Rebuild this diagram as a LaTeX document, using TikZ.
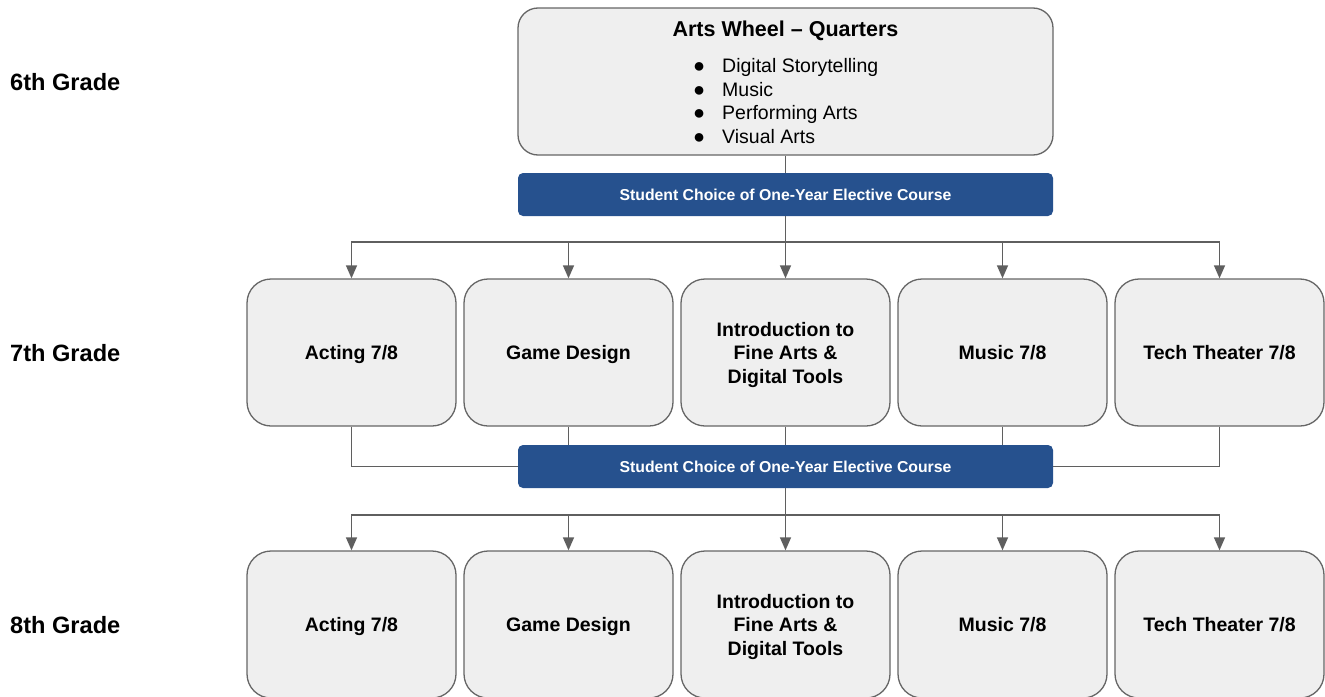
\documentclass[tikz,border=0pt]{standalone}
\usepackage{fontspec}
\setmainfont{Liberation Sans}
\usetikzlibrary{arrows.meta}
\definecolor{boxfill}{HTML}{EFEFEF}
\definecolor{boxline}{HTML}{666666}
\definecolor{conncol}{HTML}{5F5F5F}
\definecolor{barblue}{HTML}{26518E}
\newcommand{\bul}{\makebox[29pt][l]{\fontsize{20}{20}\selectfont●}}
\tikzset{
  course/.style={draw=boxline, line width=1.3pt, fill=boxfill, rounded corners=24pt,
    minimum width=209pt, minimum height=147pt, inner sep=0pt, align=center, text depth=0pt,
    font=\fontsize{19.5}{23.5}\selectfont\bfseries},
  topbox/.style={draw=boxline, line width=1.3pt, fill=boxfill, rounded corners=20pt,
    minimum width=535pt, minimum height=147pt, inner sep=0pt},
  bar/.style={fill=barblue, rounded corners=5pt, minimum width=535pt, minimum height=43pt,
    inner sep=0pt, text=white, text depth=0pt, font=\fontsize{15.8}{18}\selectfont\bfseries},
  grade/.style={anchor=west, inner sep=0pt, text depth=0pt, font=\fontsize{23.6}{27}\selectfont\bfseries},
  conn/.style={draw=conncol, line width=1.4pt},
  arr/.style={conn, -{Triangle[length=13pt,width=11pt]}}
}
\begin{document}
\begin{tikzpicture}[x=1pt,y=-1pt]
\useasboundingbox (0,0) rectangle (1325,696);
\clip (0,0) rectangle (1325,696);
% grade labels
\node[grade] (g6) at (10,82) {6th Grade};
\node[grade] (g7) at (10,353) {7th Grade};
\node[grade] (g8) at (10,625) {8th Grade};
% top box
\node[topbox] (top) at (785.5,81.5) {};
\node[inner sep=0pt, anchor=base, font=\fontsize{21.5}{26}\selectfont\bfseries] (title) at (785.5,36) {Arts Wheel – Quarters};
\node[inner sep=0pt, anchor=west, align=left, font=\fontsize{19.5}{23.7}\selectfont] (bul) at (693,101)
  {\bul Digital Storytelling\\
   \bul Music\\
   \bul Performing Arts\\
   \bul Visual Arts};
% bars
\node[bar] (bar1) at (785.5,194.5) {Student Choice of One-Year Elective Course};
\node[bar] (bar2) at (785.5,466.5) {Student Choice of One-Year Elective Course};
% row 7
\node[course] (a7) at (351.5,352.5) {Acting 7/8};
\node[course] (b7) at (568.5,352.5) {Game Design};
\node[course] (c7) at (785.5,352.5) {Introduction to\\Fine Arts \&\\Digital Tools};
\node[course] (d7) at (1002.5,352.5) {Music 7/8};
\node[course] (e7) at (1219.5,352.5) {Tech Theater 7/8};
% row 8
\node[course] (a8) at (351.5,624.5) {Acting 7/8};
\node[course] (b8) at (568.5,624.5) {Game Design};
\node[course] (c8) at (785.5,624.5) {Introduction to\\Fine Arts \&\\Digital Tools};
\node[course] (d8) at (1002.5,624.5) {Music 7/8};
\node[course] (e8) at (1219.5,624.5) {Tech Theater 7/8};
% connectors
\coordinate (h1) at (785.5,242);
\coordinate (h2) at (785.5,515);
\draw[conn] (top.south) -- (bar1.north);
\draw[conn] (bar1.south) -- (h1);
\foreach \n in {a7,b7,c7,d7,e7} \draw[arr] (h1) -| (\n.north);
\draw[conn] (a7.south) |- (bar2.west);
\draw[conn] (e7.south) |- (bar2.east);
\foreach \n in {b7,c7,d7} \draw[conn] (\n.south) -- (\n.south |- bar2.north);
\draw[conn] (bar2.south) -- (h2);
\foreach \n in {a8,b8,c8,d8,e8} \draw[arr] (h2) -| (\n.north);
\end{tikzpicture}
\end{document}
